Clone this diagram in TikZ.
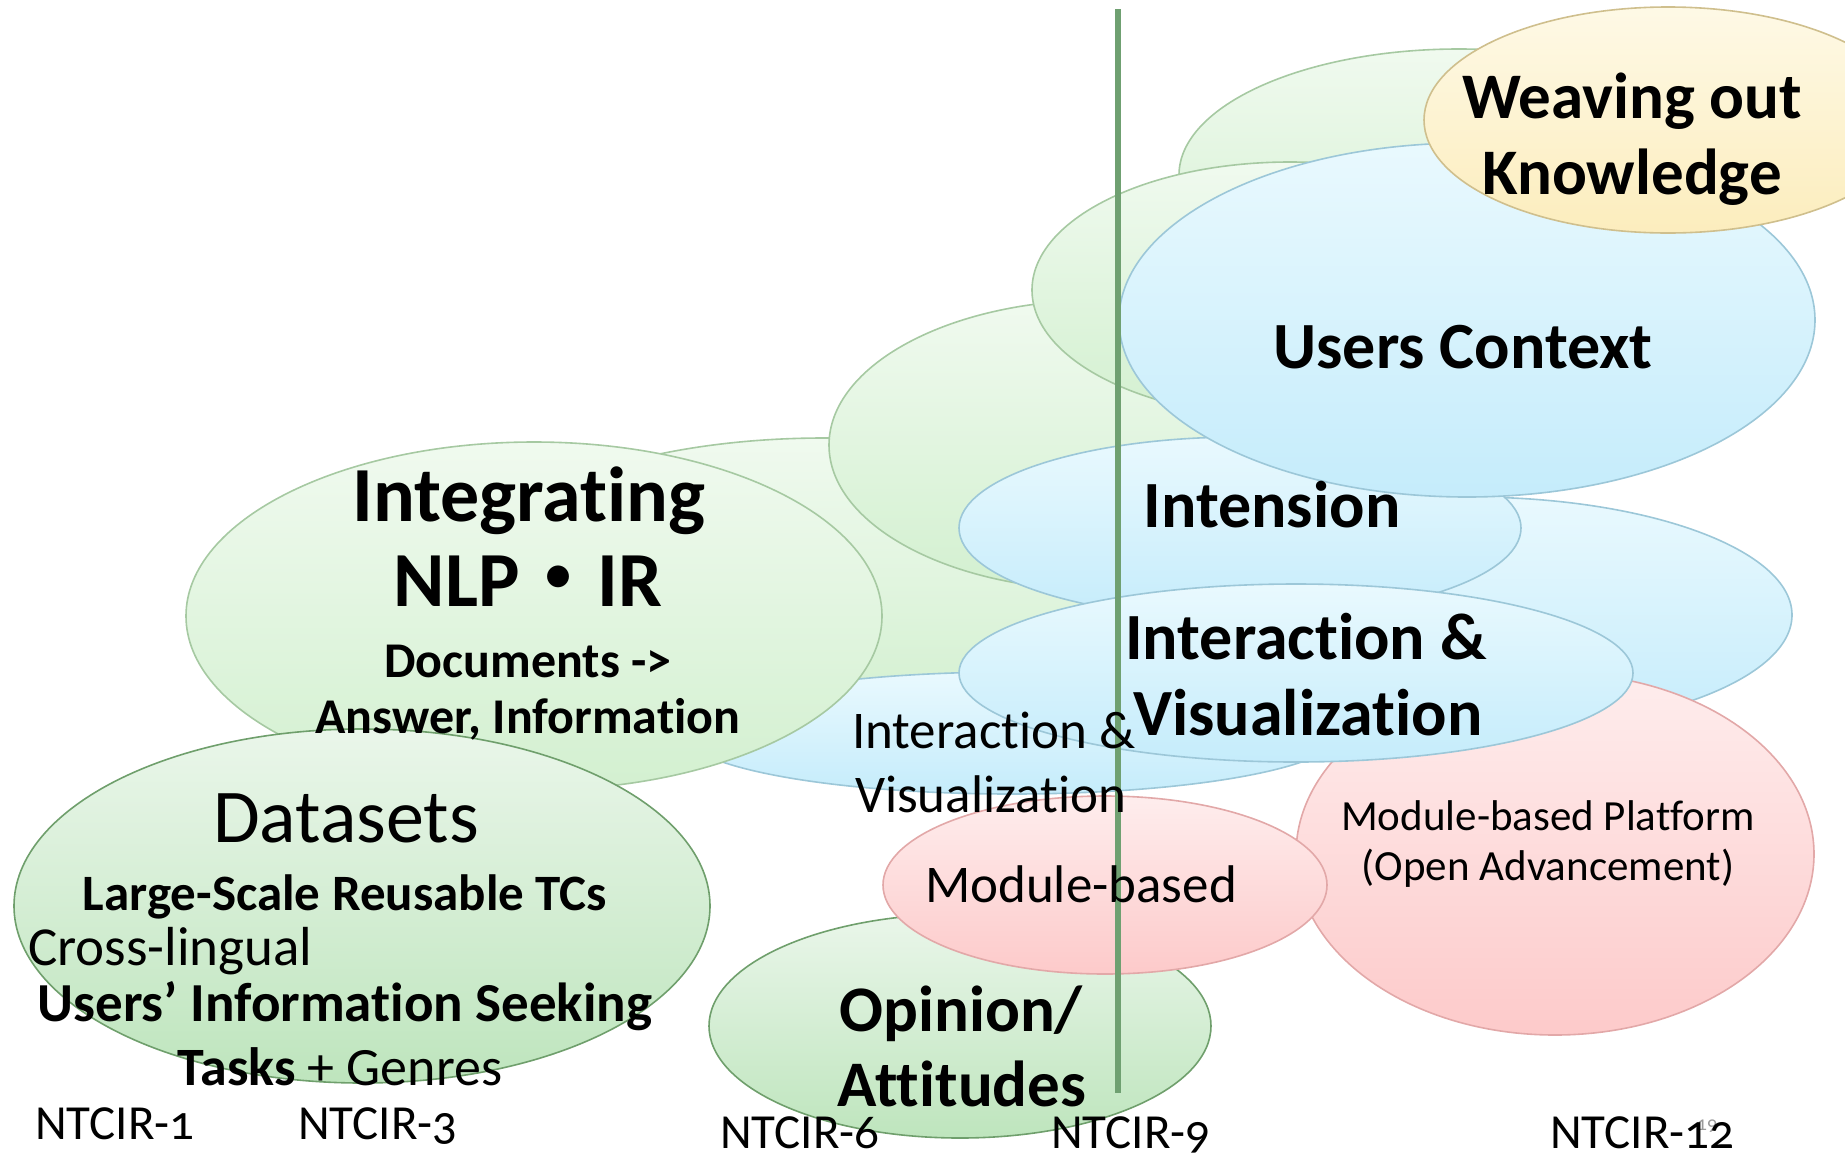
\documentclass[tikz,border=0pt]{standalone}
\usepackage{fontspec}
\setmainfont{Carlito}[Ligatures=CommonOff]
\newfontfamily\onum{Carlito}[Numbers=OldStyle,Ligatures=CommonOff]
\newfontfamily\cjkdot{Noto Sans CJK JP}
\usetikzlibrary{shapes.geometric}
\definecolor{glB}{HTML}{A6C9A2}
\definecolor{glT}{HTML}{F0FAEF}
\definecolor{glBot}{HTML}{D3F0D0}
\definecolor{gdB}{HTML}{6F9F6C}
\definecolor{gdT}{HTML}{EAF6EA}
\definecolor{gdBot}{HTML}{BEE5BD}
\definecolor{blB}{HTML}{9CC7D8}
\definecolor{blT}{HTML}{E9F9FE}
\definecolor{blBot}{HTML}{C5ECFB}
\definecolor{pkB}{HTML}{E2A8A8}
\definecolor{pkT}{HTML}{FEEDED}
\definecolor{pkBot}{HTML}{FDCACA}
\definecolor{ylB}{HTML}{CFBF8D}
\definecolor{ylT}{HTML}{FEF9E6}
\definecolor{ylBot}{HTML}{FCEDBD}
\definecolor{vline}{HTML}{6FA071}
\tikzset{
  ell/.style={ellipse, inner sep=0pt, outer sep=0pt, line width=1.6pt},
  gl/.style={ell, draw=glB, top color=glT, bottom color=glBot},
  gd/.style={ell, draw=gdB, top color=gdT, bottom color=gdBot},
  bl/.style={ell, draw=blB, top color=blT, bottom color=blBot},
  pk/.style={ell, draw=pkB, top color=pkT, bottom color=pkBot},
  yl/.style={ell, draw=ylB, top color=ylT, bottom color=ylBot},
  txt/.style={inner sep=0pt, outer sep=0pt, text=black},
  fs/.style={font=\fontsize{#1}{#1}\selectfont},
  fb/.style={font=\fontsize{#1}{#1}\selectfont\bfseries},
}
\begin{document}
\begin{tikzpicture}[x=1pt,y=-1pt]
\useasboundingbox (0,0) rectangle (1845,1157);
% ellipses, back to front
\node[gl, minimum width=706pt, minimum height=278pt] (B) at (824,577) {};
\node[bl, minimum width=658pt, minimum height=122pt] (F) at (1012,733) {};
\node[gl, minimum width=696pt, minimum height=348pt] (A) at (534,616) {};
\node[gd, minimum width=696pt, minimum height=354pt] (M) at (362,906) {};
\node[gl, minimum width=560pt, minimum height=252pt] (E) at (1459,175) {};
\node[gl, minimum width=542pt, minimum height=290pt] (C) at (1100,445) {};
\node[gl, minimum width=516pt, minimum height=256pt] (D) at (1290,290) {};
\node[bl, minimum width=642pt, minimum height=236pt] (G) at (1471,615) {};
\node[bl, minimum width=562pt, minimum height=182pt] (H) at (1240,528) {};
\node[pk, minimum width=518pt, minimum height=362pt] (L) at (1555,854) {};
\node[bl, minimum width=674pt, minimum height=178pt] (I) at (1296,673) {};
\node[bl, minimum width=696pt, minimum height=354pt] (J) at (1467,320) {};
\node[yl, minimum width=488pt, minimum height=226pt] (O) at (1668,120) {};
\node[gd, minimum width=502pt, minimum height=224pt] (N) at (960,1026) {};
\node[pk, minimum width=444pt, minimum height=178pt] (K) at (1105,885) {};
% vertical line
\coordinate (vt) at (1118,9);
\coordinate (vb) at (1118,1093);
\draw[vline, line width=6pt] (vt) -- (vb);
% texts
\node[txt, fb=65, anchor=base] (w1) at (1632,118) {Weaving out};
\node[txt, fb=65, anchor=base] (w2) at (1632,194) {Knowledge};
\node[txt, fb=66, anchor=base] (uc) at (1463,368) {Users Context};
\node[txt, fb=66, anchor=base] (int) at (1272,527) {Intension};
\node[txt, fb=66, anchor=base] (iv1) at (1306,659) {Interaction \&};
\node[txt, fb=66, anchor=base] (iv2) at (1308,735) {Visualization};
\node[txt, fb=78, anchor=base] (ig1) at (529,521) {Integrating};
\node[txt, fb=78, anchor=base] (ig2) at (528,606) {NLP{\cjkdot ・}IR};
\node[txt, fb=50, anchor=base] (dc1) at (528,677) {Documents ->};
\node[txt, fb=50, anchor=base] (dc2) at (528,733) {Answer, Information};
\node[txt, fs=53, anchor=base west] (ir1) at (852,748) {Interaction \&};
\node[txt, fs=53, anchor=base west] (ir2) at (855,812) {Visualization};
\node[txt, fs=76, anchor=base] (ds) at (346,842) {Datasets};
\node[txt, fb=51, anchor=base] (ls) at (345,910) {Large-Scale Reusable TCs};
\node[txt, fs=55, anchor=base west] (cl) at (28,965) {Cross-lingual};
\node[txt, fb=55, anchor=base] (ui) at (345,1021) {Users’ Information Seeking};
\node[txt, fs=54, anchor=base] (tg) at (340,1085) {\bfseries Tasks\mdseries{} + Genres};
\node[txt, fs=53, anchor=base] (mb) at (1081,902) {Module-based};
\node[txt, fs=43, anchor=base] (mp1) at (1548,830) {Module-based Platform};
\node[txt, fs=43, anchor=base] (mp2) at (1548,880) {(Open Advancement)};
\node[txt, fb=65, anchor=base] (op1) at (961,1031) {Opinion/};
\node[txt, fb=65, anchor=base] (op2) at (962,1106) {Attitudes};
\node[txt, fs=49, anchor=base west] (n1) at (35,1139) {\onum NTCIR-1};
\node[txt, fs=49, anchor=base west] (n3) at (298,1139) {\onum NTCIR-3};
\node[txt, fs=49, anchor=base west] (n6) at (720,1148) {\onum NTCIR-6};
\node[txt, fs=49, anchor=base west] (n9) at (1051,1148) {\onum NTCIR-9};
\node[txt, fs=20, anchor=base, text=black!40] (pg) at (1707,1130) {\onum 19};
\node[txt, fs=49, anchor=base west] (n12) at (1550,1148) {\onum NTCIR-12};
\end{tikzpicture}
\end{document}
